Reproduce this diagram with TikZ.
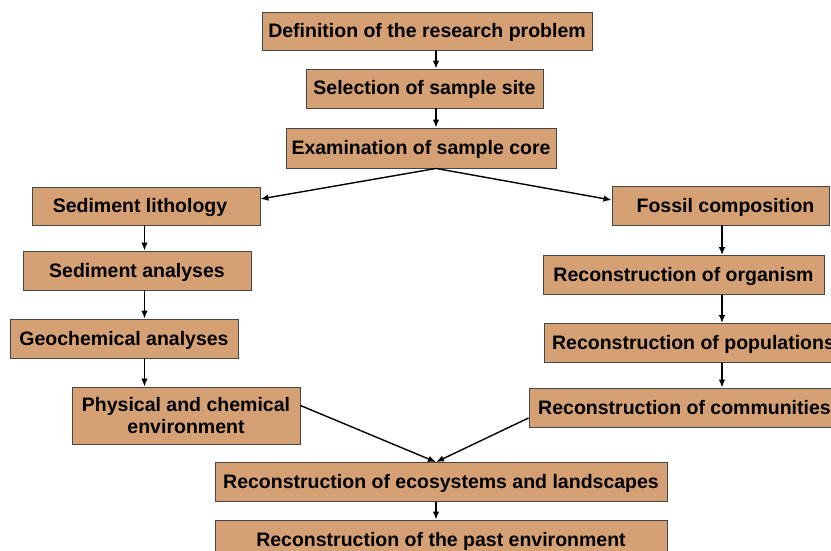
\documentclass[tikz,border=0pt]{standalone}
\usepackage{fontspec}
\setmainfont{Liberation Sans}
\usetikzlibrary{arrows.meta,calc}
\definecolor{boxtan}{RGB}{213,161,116}
\definecolor{boxedge}{RGB}{70,70,70}
\tikzset{
  box/.style={draw=boxedge, fill=boxtan, line width=0.9pt, inner sep=0pt, align=center,
    text height=15pt, text depth=2pt,
    font=\bfseries\fontsize{19.5}{22.5}\selectfont, text=black},
  arr/.style={line width=1.4pt, -{Latex[length=8pt,width=6.5pt]}}
}
\begin{document}
\begin{tikzpicture}[x=1pt,y=-1pt]
\useasboundingbox (0,0) rectangle (831,551);
\clip (0,0) rectangle (831,551);
\fill[white] (0,0) rectangle (831,551);
\coordinate (cA) at (436,0);
\coordinate (cL) at (144.5,0);
\coordinate (cR) at (722,0);
\node[box, minimum width=330pt, minimum height=38pt] (def) at (427,31) {Definition of the research problem};
\node[box, minimum width=237pt, minimum height=39pt] (sel) at (424.5,88.5) {Selection of sample site};
\node[box, minimum width=270pt, minimum height=40pt] (exa) at (421,148) {Examination of sample core};
\node[box, minimum width=228pt, minimum height=38pt] (lit) at (146,206) {Sediment lithology\hspace*{12pt}\null};
\node[box, minimum width=228pt, minimum height=39pt] (san) at (137,270.5) {Sediment analyses};
\node[box, minimum width=228pt, minimum height=39pt] (geo) at (124,338.5) {Geochemical analyses};
\node[box, minimum width=228pt, minimum height=57pt, text height=, text depth=] (phy) at (186,415.5) {Physical and chemical\\environment};
\node[box, minimum width=217pt, minimum height=39pt] (fos) at (720.5,205.5) {\null\hspace*{10pt}Fossil composition};
\node[box, minimum width=281pt, minimum height=39pt] (org) at (683.5,275) {Reconstruction of organism};
\node[box, minimum width=299pt, minimum height=39pt] (pop) at (693.5,343) {Reconstruction of populations};
\node[box, minimum width=311pt, minimum height=39pt] (com) at (684.5,407.5) {Reconstruction of communities};
\node[box, minimum width=452pt, minimum height=39pt] (eco) at (441,482) {Reconstruction of ecosystems and landscapes};
\node[box, minimum width=452pt, minimum height=39pt] (pas) at (441,539.5) {Reconstruction of the past environment};
\draw[arr] (def.south -| cA) -- (sel.north -| cA);
\draw[arr] (sel.south -| cA) -- (exa.north -| cA);
\draw[arr] (exa.south -| cA) -- ($(lit.east)+(0,-7)$);
\draw[arr] (exa.south -| cA) -- ($(fos.west)+(0,-5.5)$);
\draw[arr] (lit.south -| cL) -- (san.north -| cL);
\draw[arr] (san.south -| cL) -- (geo.north -| cL);
\draw[arr] (geo.south -| cL) -- (phy.north -| cL);
\draw[arr] (fos.south -| cR) -- (org.north -| cR);
\draw[arr] (org.south -| cR) -- (pop.north -| cR);
\draw[arr] (pop.south -| cR) -- (com.north -| cR);
\draw[arr] ($(phy.east)+(0,-10)$) -- (eco.north -| cA);
\draw[arr] ($(com.west)+(0,10.5)$) -- (eco.north -| cA);
\draw[arr] (eco.south -| cA) -- (pas.north -| cA);
\end{tikzpicture}
\end{document}
